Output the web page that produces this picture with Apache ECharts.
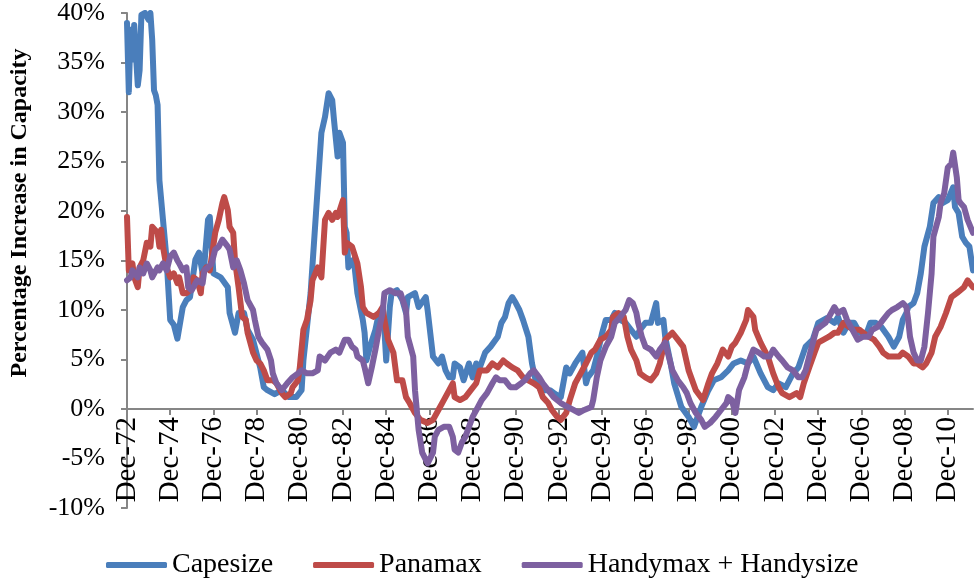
<!DOCTYPE html>
<html lang="en">
<head>
    <meta charset="UTF-8">
    <title>Percentage Increase in Capacity</title>
    <style type="text/css">
        html, body { margin: 0; padding: 0; background: #fff; }
        #main { width: 974px; height: 581px; }
    </style>
</head>
<body>
    <div id="main"></div>
    <script src="https://cdn.jsdelivr.net/npm/echarts@6/dist/echarts.min.js"></script>
    <script type="text/javascript">
        // x = months since Dec-72, y = % increase in capacity
        var tickLabels = ['Dec-72', 'Dec-74', 'Dec-76', 'Dec-78', 'Dec-80', 'Dec-82', 'Dec-84', 'Dec-86', 'Dec-88', 'Dec-90',
            'Dec-92', 'Dec-94', 'Dec-96', 'Dec-98', 'Dec-00', 'Dec-02', 'Dec-04', 'Dec-06', 'Dec-08', 'Dec-10'];
        var seriesNames = ['Capesize', 'Panamax', 'Handymax + Handysize'];

        var capesize = [[0,39],[1,32],[2,38.3],[3,35.3],[4,38.8],[6,32.7],[7,34.2],[8,39.8],[10,40],[12,39.3],[13,40],[14,37.3],[15,32.2],[16,31.7],[17,30.7],[18,23.1],[19,21.1],[22,15.1],[24,9],[26,8.5],[28,7.1],[31,10.3],[33,11],[35,11.3],[38,15.1],[40,15.8],[42,13.7],[43,14.7],[45,19.1],[46,19.4],[48,13.7],[52,13.3],[56,12.3],[57,9.7],[60,7.7],[62,9.7],[65,9.7],[67,8],[70,7],[74,4.2],[76,2.2],[78,1.9],[82,1.5],[86,1.9],[90,1.2],[94,1.2],[97,1.9],[98,4.9],[102,11.7],[105,19.8],[106,19.8],[108,27.9],[110,29.5],[112,31.9],[114,31.2],[115,29.2],[117,25.5],[118,27.9],[120,26.9],[121,18.4],[122,17.8],[123,14.3],[126,15.1],[128,11.7],[131,9],[132,7.7],[133,4.9],[135,6.3],[138,8],[140,9.7],[143,8],[144,4.9],[146,10.3],[147,11.7],[150,12],[153,11],[155,9.7],[156,11.3],[160,11.7],[162,10.3],[166,11.3],[167,10],[170,5.3],[173,4.6],[175,5.3],[177,3.9],[179,3.2],[181,3.2],[182,4.6],[185,4.2],[187,2.9],[190,4.6],[192,3.2],[194,4.6],[196,4.2],[199,5.7],[202,6.3],[206,7.3],[208,8.7],[210,9.3],[212,10.7],[214,11.3],[216,10.7],[218,10],[220,9],[223,7.3],[225,4.6],[227,2.9],[230,1.9],[235,1.9],[238,1.5],[241,1.2],[244,4.2],[246,3.6],[249,4.6],[253,5.7],[255,2.6],[256,3.2],[259,3.9],[261,5.3],[264,7.7],[266,9],[269,9],[271,9.7],[274,9],[277,8.7],[280,8],[283,7.3],[285,8],[288,8.7],[291,8.7],[294,10.7],[295,8.7],[298,9],[299,7.3],[302,4.6],[304,2.6],[308,0.2],[312,-0.8],[315,-1.8],[319,0.2],[323,1.9],[326,2.9],[330,3.2],[334,3.9],[337,4.6],[341,4.9],[345,4.6],[348,5.3],[352,3.6],[356,2.2],[359,1.9],[362,2.6],[366,2.2],[370,3.6],[373,4.2],[377,6.3],[381,7],[384,8.7],[389,9.2],[393,8.7],[395,9.3],[398,7.7],[401,8.7],[404,8.7],[407,7.7],[411,7.7],[413,8.7],[416,8.7],[419,8.3],[423,7.3],[426,6.3],[427,6.3],[429,7.3],[431,9],[433,9.7],[434,10.3],[437,10.7],[439,11.7],[441,13.7],[443,16.4],[446,18.4],[448,20.8],[451,21.4],[453,20.8],[456,21.1],[459,22.4],[460,20.4],[462,19.8],[464,17.4],[466,16.8],[468,16.4],[470,14]];

        var panamax = [[0,19.4],[1,14],[3,14.7],[4,13.3],[6,12.3],[7,14.3],[9,15],[11,16.8],[13,16.4],[14,18.4],[17,17.8],[18,16.4],[19,18.1],[20,16.4],[22,14.3],[24,13.3],[26,13.7],[28,12.7],[29,13.3],[31,11.7],[33,11.7],[35,12],[37,13.3],[39,13],[41,11.7],[42,13.7],[44,14.3],[46,14],[49,17.8],[51,19.1],[53,20.8],[54,21.4],[56,20.1],[57,18.4],[59,17.8],[60,15],[62,12.3],[64,9.3],[66,9],[67,7.7],[70,5.7],[72,4.9],[74,4.6],[76,3.9],[78,2.9],[81,2.9],[83,2.6],[86,1.6],[88,1.2],[91,1.6],[92,2.2],[95,2.9],[96,4.2],[98,8],[100,9],[102,11],[103,13],[106,14.3],[108,13.3],[110,19.1],[112,19.8],[114,19.1],[116,19.8],[117,19.4],[120,21.1],[121,15.8],[122,16.8],[125,16.4],[128,14.7],[130,12.3],[131,10.3],[133,9.7],[137,9.3],[140,9.7],[142,10.3],[143,9],[145,7],[148,5.7],[150,2.9],[153,2.9],[155,1.2],[157,0.6],[160,-0.4],[163,-1.1],[167,-1.4],[170,-1.1],[173,-0.1],[176,0.9],[179,1.9],[181,2.6],[182,1.2],[185,0.9],[188,1.2],[191,1.9],[194,2.6],[196,3.9],[200,3.9],[203,4.6],[206,4.2],[209,4.9],[211,4.6],[214,4.2],[217,3.9],[220,3.2],[223,2.9],[226,2.6],[229,2.2],[231,1.2],[234,0.6],[236,-0.1],[239,-0.8],[241,-1.1],[244,-0.4],[246,0.9],[249,2.6],[252,3.6],[255,4.6],[258,5.7],[260,6],[263,7],[266,7.3],[269,8],[270,9.3],[273,9.7],[276,9.3],[278,7.3],[280,6],[283,4.9],[285,3.6],[288,3.2],[291,2.9],[294,3.6],[296,4.6],[299,7],[303,7.7],[306,7],[309,6.3],[312,3.9],[316,1.9],[320,0.9],[323,2.6],[325,3.6],[328,4.6],[331,6],[334,5.3],[336,6.3],[338,6.7],[341,7.7],[344,9],[345,10],[348,9.3],[349,8],[352,6.7],[356,5.3],[359,3.6],[362,2.2],[364,1.6],[368,1.2],[372,1.6],[374,1.2],[376,2.6],[379,4.2],[382,5.7],[384,6.7],[387,7],[390,7.3],[393,7.7],[395,7.7],[398,8.7],[401,8.3],[404,8],[407,8],[409,7.7],[412,7.3],[415,7],[418,6.3],[420,5.7],[423,5.3],[426,5.3],[429,5.3],[431,5.7],[434,5.3],[437,4.6],[439,4.6],[442,4.2],[444,4.6],[447,5.7],[449,7.3],[452,8.3],[455,9.7],[458,11.3],[461,11.7],[463,12],[465,12.3],[467,13],[470,12.3]];

        var handysize = [[0,13],[2,13.3],[3,14],[6,13.3],[7,14.3],[9,13.7],[11,14.7],[13,14],[14,13.3],[17,14.3],[18,14],[20,14.7],[22,14],[24,15.4],[26,15.8],[28,15],[29,14.7],[31,14],[33,14.3],[34,12.3],[36,12],[38,12.7],[39,13],[42,12.7],[43,14],[45,14.3],[47,14.7],[49,16.1],[51,16.4],[53,17.1],[56,16.4],[57,16.1],[59,14.3],[61,15],[63,14],[65,12.7],[67,11],[70,10],[71,9],[73,7.3],[75,6.7],[78,6],[80,4.9],[81,3.6],[83,2.6],[86,1.9],[89,2.6],[92,3.2],[95,3.6],[97,3.9],[100,3.6],[103,3.6],[106,3.9],[107,5.3],[110,4.9],[113,5.7],[116,6],[118,5.7],[121,7],[123,7],[125,6.3],[127,6],[128,5.3],[131,4.9],[132,4.2],[134,2.6],[136,4.2],[138,6],[140,8],[142,9.7],[143,11.7],[146,12],[149,11.7],[152,11.7],[155,10],[156,7.3],[159,5.3],[160,1.9],[162,-2.1],[164,-4.4],[167,-5.5],[170,-4.4],[171,-2.8],[173,-2.1],[176,-1.8],[179,-1.8],[181,-2.8],[182,-4.1],[184,-4.4],[186,-3.4],[188,-2.8],[190,-1.8],[192,-0.8],[195,0.2],[197,0.9],[200,1.6],[203,2.6],[205,3.2],[207,2.9],[210,2.9],[213,2.2],[216,2.2],[219,2.6],[221,2.9],[224,3.6],[226,3.9],[229,3.2],[231,2.6],[234,1.9],[237,1.2],[241,0.6],[245,0.2],[248,-0.1],[251,-0.4],[254,-0.1],[258,0.2],[259,0.9],[261,3.2],[263,4.9],[266,6.3],[269,7.3],[271,8.7],[274,9.3],[277,10],[279,11],[281,10.7],[283,9.7],[284,8.7],[286,7.3],[288,6.3],[291,6],[294,5.3],[296,6],[299,6.7],[301,5.3],[303,3.9],[306,2.9],[309,2.2],[311,1.6],[313,0.6],[316,-0.4],[319,-1.1],[321,-1.8],[324,-1.4],[327,-0.8],[330,-0.1],[333,0.6],[334,1.2],[336,0.9],[338,-0.4],[340,1.9],[343,3.2],[345,4.6],[348,6],[351,5.7],[354,5.3],[357,5.3],[359,6],[362,5.3],[364,4.9],[367,4.2],[370,3.9],[373,3.2],[375,3.2],[377,3.9],[380,6],[383,8],[385,8.3],[388,8.7],[390,9.3],[393,10.3],[395,9.7],[398,10],[400,9],[403,8],[406,7],[409,7.3],[412,7.3],[414,8],[417,8.3],[420,9],[423,9.7],[425,10],[428,10.3],[431,10.7],[433,10.3],[434,9],[435,7.3],[437,5.7],[439,4.9],[441,4.9],[443,6.3],[445,9.7],[447,13.7],[448,17.4],[451,19.4],[452,20.8],[454,21.8],[456,24.4],[458,24.8],[459,25.9],[461,23.4],[462,21.1],[463,20.8],[465,20.4],[467,19.1],[470,17.8]];

        var colors = ['#4A7EBB', '#BE4B48', '#7D60A0'];
        var font = 'Liberation Serif';
        var tickValues = tickLabels.map(function (t, i) { return i * 24; });

        var myChart = echarts.init(document.getElementById('main'));

        function lineSeries(name, data, color) {
            return {
                name: name,
                type: 'line',
                data: data,
                symbol: 'none',
                smooth: false,
                lineStyle: { width: 6, color: color, cap: 'round', join: 'round' },
                itemStyle: { color: color }
            };
        }

        var option = {
            animation: false,
            color: colors,
            grid: { left: 127, right: 1, top: 13, bottom: 73, containLabel: false, outerBoundsMode: 'none' },
            legend: {
                data: seriesNames,
                left: 101,
                top: 546,
                icon: 'roundRect',
                itemWidth: 61,
                itemHeight: 6,
                itemGap: 40,
                textStyle: { fontFamily: font, fontSize: 28, color: '#000' }
            },
            xAxis: {
                type: 'value',
                min: 0,
                max: 470,
                // axis sits on the 0% line: one 10% step (99px) above the grid bottom
                offset: -99,
                splitLine: { show: false },
                axisLine: { onZero: false, lineStyle: { color: '#868686', width: 2 } },
                axisTick: { customValues: tickValues, length: 6, lineStyle: { color: '#868686', width: 2 } },
                axisLabel: {
                    customValues: tickValues,
                    rotate: 90,
                    margin: 8,
                    fontFamily: font,
                    fontSize: 29,
                    color: '#000',
                    formatter: function (v) { return tickLabels[Math.round(v / 24)]; }
                }
            },
            yAxis: {
                type: 'value',
                min: -10,
                max: 40,
                interval: 5,
                splitLine: { show: false },
                axisLine: { show: true, lineStyle: { color: '#868686', width: 2 } },
                axisTick: { show: true, length: 6, lineStyle: { color: '#868686', width: 2 } },
                axisLabel: {
                    margin: 22,
                    fontFamily: font,
                    fontSize: 26,
                    color: '#000',
                    formatter: '{value}%'
                }
            },
            graphic: [{
                type: 'text',
                x: 20,
                y: 213,
                rotation: Math.PI / 2,
                style: {
                    text: 'Percentage Increase in Capacity',
                    fontFamily: font,
                    fontSize: 24,
                    fontWeight: 'bold',
                    fill: '#000',
                    textAlign: 'center',
                    textVerticalAlign: 'middle',
                    align: 'center',
                    verticalAlign: 'middle'
                }
            }],
            series: [
                lineSeries(seriesNames[0], capesize, colors[0]),
                lineSeries(seriesNames[1], panamax, colors[1]),
                lineSeries(seriesNames[2], handysize, colors[2])
            ]
        };

        myChart.setOption(option);
    </script>
</body>
</html>
